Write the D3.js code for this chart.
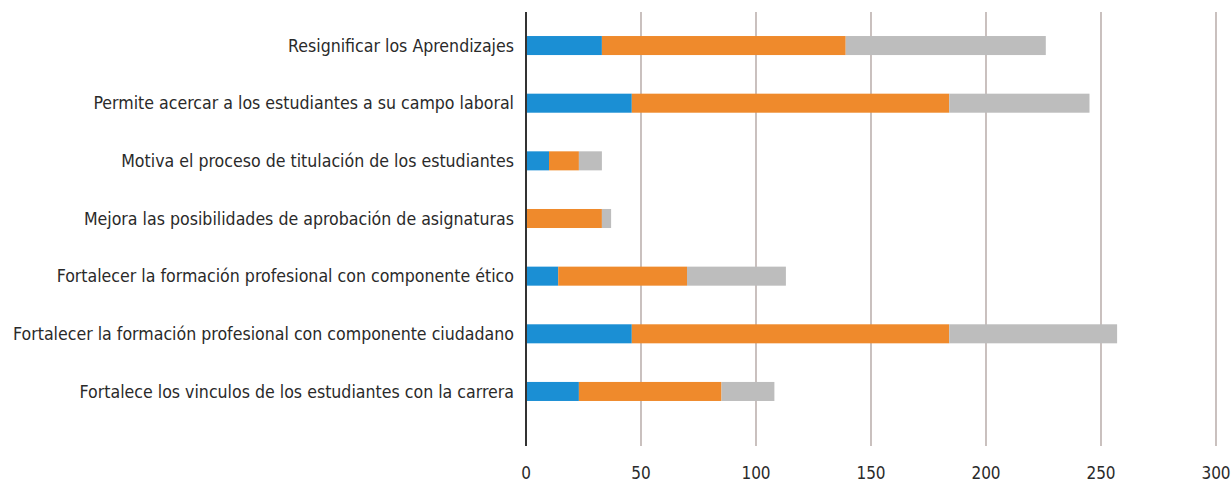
<!DOCTYPE html>
<html>
<head>
<meta charset="utf-8">
<script src="https://cdn.jsdelivr.net/npm/d3@7"></script>
<style>
  body { margin: 0; background: #fff; }
  text { font-family: "DejaVu Sans Condensed", "Liberation Sans Narrow", sans-serif; fill: #2a2a2a; }
</style>
</head>
<body>
<script>
var w = 1232, h = 487;

var categories = [
  "Resignificar los Aprendizajes",
  "Permite acercar a los estudiantes a su campo laboral",
  "Motiva el proceso de titulación de los estudiantes",
  "Mejora las posibilidades de aprobación de asignaturas",
  "Fortalecer la formación profesional con componente ético",
  "Fortalecer la formación profesional con componente ciudadano",
  "Fortalece los vinculos de los estudiantes con la carrera"
];
var blueVals   = [33, 46, 10, 0, 14, 46, 23];
var orangeVals = [106, 138, 13, 33, 56, 138, 62];
var grayVals   = [87, 61, 10, 4, 43, 73, 23];
var ticks = [0, 50, 100, 150, 200, 250, 300];

var seriesKeys = ["blue", "orange", "gray"];
var colors = { blue: "#1b8fd4", orange: "#ef8a2c", gray: "#bdbdbd" };

var rows = categories.map(function (c, i) {
  return { cat: c, blue: blueVals[i], orange: orangeVals[i], gray: grayVals[i] };
});

var svg = d3.select("body").append("svg")
    .attr("width", w)
    .attr("height", h);

var x = d3.scaleLinear().domain([0, 300]).range([526, 1216]);
var y = d3.scaleBand().domain(categories).range([17, 420]).paddingInner(0.67).paddingOuter(0.33);

// gridlines
svg.selectAll(".grid").data(ticks.slice(1)).enter().append("line")
    .attr("class", "grid")
    .attr("x1", function (d) { return x(d) }).attr("x2", function (d) { return x(d) })
    .attr("y1", 12).attr("y2", 446)
    .attr("stroke", "#ad9f9c").attr("stroke-width", 1.3);

// stacked bars
var stack = d3.stack().keys(seriesKeys)(rows);
svg.selectAll(".series").data(stack).enter().append("g")
    .attr("fill", function (d) { return colors[d.key] })
  .selectAll("rect").data(function (d) { return d }).enter().append("rect")
    .attr("x", function (d) { return x(d[0]) })
    .attr("width", function (d) { return x(d[1]) - x(d[0]) })
    .attr("y", function (d) { return y(d.data.cat) })
    .attr("height", y.bandwidth());

// zero axis line
svg.append("line")
    .attr("x1", x(0)).attr("x2", x(0))
    .attr("y1", 12).attr("y2", 446)
    .attr("stroke", "#333").attr("stroke-width", 2);

// category labels
svg.selectAll(".cat").data(categories).enter().append("text")
    .attr("class", "cat")
    .attr("x", 514)
    .attr("y", function (d) { return y(d) + y.bandwidth() / 2 })
    .attr("dy", "0.35em")
    .attr("text-anchor", "end")
    .style("font-size", "17.6px")
    .text(function (d) { return d });

// tick labels
svg.selectAll(".tick").data(ticks).enter().append("text")
    .attr("class", "tick")
    .attr("x", function (d) { return x(d) })
    .attr("y", 473)
    .attr("dy", "0.35em")
    .attr("text-anchor", "middle")
    .style("font-size", "17px")
    .text(function (d) { return d });
</script>
</body>
</html>
